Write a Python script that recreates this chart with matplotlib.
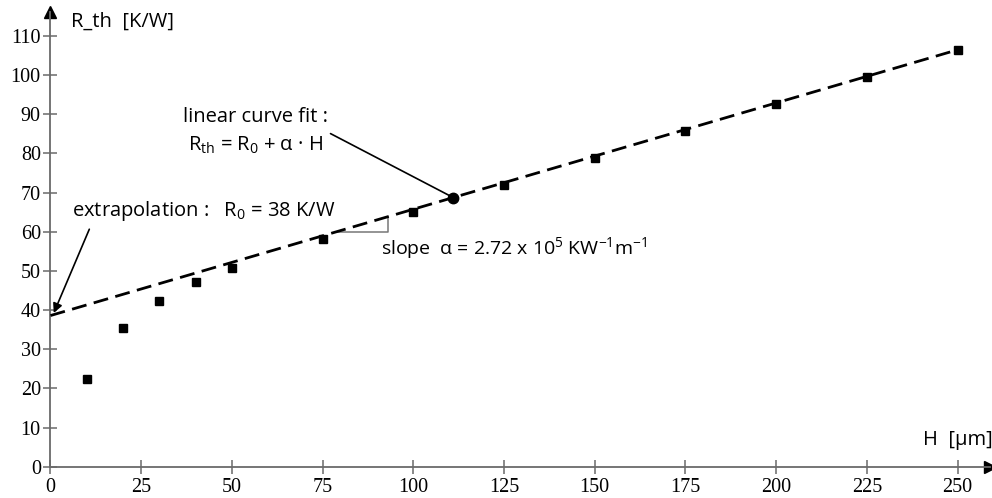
import matplotlib
matplotlib.use("Agg")
import matplotlib.pyplot as plt
import numpy as np

# measured data: film thickness H [um] vs thermal resistance R_th [K/W]
H_UM = [10, 20, 30, 40, 50, 75, 100, 125, 150, 175, 200, 225, 250]
R_TH = [22.3, 35.3, 42.4, 47.2, 50.7, 58.2, 65.1, 72.0, 78.8, 85.7, 92.6, 99.4, 106.4]

# linear fit R_th = R0 + alpha*H  (alpha per um)
FIT_R0 = 38.6
FIT_SLOPE = 0.2715
FIT_RANGE = [0, 250]
FIT_MARK_H = 111

X_TICKS = [0, 25, 50, 75, 100, 125, 150, 175, 200, 225, 250]
Y_TICKS = [0, 10, 20, 30, 40, 50, 60, 70, 80, 90, 100, 110]

plt.rcParams["font.family"] = ["Open Sans", "DejaVu Sans"]
plt.rcParams["mathtext.default"] = "regular"

AXIS_GRAY = "#6a6a6a"


def fit(h):
    return FIT_R0 + FIT_SLOPE * np.asarray(h, dtype=float)


fig = plt.figure(figsize=(9.92, 4.98), dpi=100)
ax = fig.add_axes([0.0509, 0.0629, 0.9473, 0.912])
ax.set_xlim(0, 259)
ax.set_ylim(0, 116)

for side in ("top", "right"):
    ax.spines[side].set_visible(False)
for side in ("left", "bottom"):
    ax.spines[side].set_color(AXIS_GRAY)
    ax.spines[side].set_linewidth(1.3)

# arrow heads at the axis ends
ax.plot(1, 0, ">", color="black", ms=8, transform=ax.transAxes, clip_on=False)
ax.plot(0, 1, "^", color="black", ms=8, transform=ax.transAxes, clip_on=False)

ax.set_xticks(X_TICKS)
ax.set_yticks(Y_TICKS)
ax.tick_params(direction="inout", length=10, width=1.1, color=AXIS_GRAY,
               labelsize=14.5)
ax.tick_params(axis="x", pad=3)
ax.tick_params(axis="y", pad=2)
for lab in ax.get_xticklabels() + ax.get_yticklabels():
    lab.set_fontfamily("Liberation Serif")

# fitted line
hx = np.array(FIT_RANGE, dtype=float)
ax.plot(hx, fit(hx), color="black", lw=2.0, ls=(0, (5.4, 2.7)), zorder=3)

# measurements
ax.plot(H_UM, R_TH, "s", color="black", ms=6.3, zorder=4)

# marker on the fit line
ax.plot([FIT_MARK_H], [fit(FIT_MARK_H)], "o", color="black", ms=7.5, zorder=5)

# slope triangle
h1, h2 = 78.4, 93.1
ax.plot([h1, h2, h2], [fit(h1), fit(h1), fit(h2)], color="#777777", lw=1.1, zorder=2)

# axis labels
ax.text(5.6, 113.6, "R_th  [K/W]", fontsize=14.5, va="center", ha="left")
ax.text(240.5, 6.8, "H  [µm]", fontsize=14.5, va="center", ha="left")

# annotations
ax.text(36.5, 89.3, "linear curve fit :", fontsize=14.5, va="center", ha="left")
ax.text(38.0, 82.0, r"R$_{th}$ = R$_0$ + α · H", fontsize=14.5, va="center", ha="left")
ax.annotate("", xy=(FIT_MARK_H, fit(FIT_MARK_H)), xytext=(76.5, 85.4),
            arrowprops=dict(arrowstyle="-", color="black", lw=1.2))

ax.text(5.8, 65.3, r"extrapolation :   R$_0$ = 38 K/W", fontsize=14.5,
        va="center", ha="left")
ax.annotate("", xy=(0.6, fit(0)), xytext=(11.0, 61.3),
            arrowprops=dict(arrowstyle="-|>", color="black", lw=1.2,
                            mutation_scale=14))

ax.text(91.0, 55.9, r"slope  α = 2.72 x 10$^5$ KW$^{-1}$m$^{-1}$", fontsize=14,
        va="center", ha="left")

fig.savefig("out.png", dpi=100)
